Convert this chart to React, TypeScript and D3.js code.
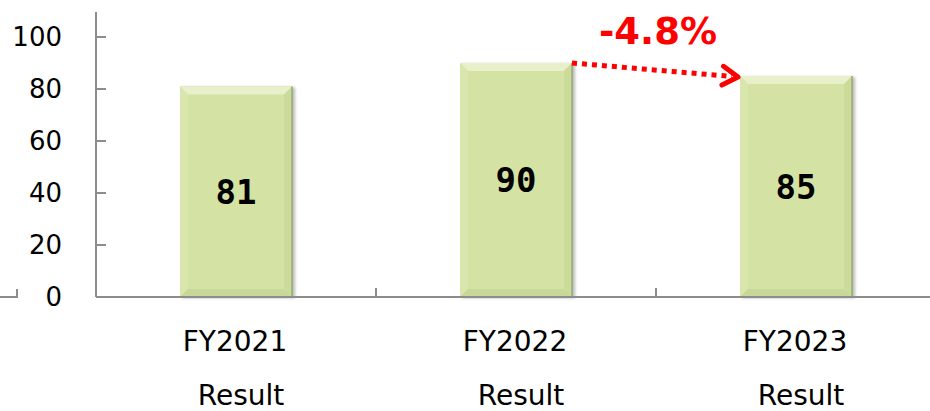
import React, { useEffect, useRef } from "react"
import * as d3 from "d3"

const categories = ["FY2021", "FY2022", "FY2023"]
const subLabels = ["Result", "Result", "Result"]
const values = [81, 90, 85]
const yTicks = [0, 20, 40, 60, 80, 100]
const changeLabel = "-4.8%"

const W = 930
const H = 411

const App = () => {
	const ref = useRef(null)

	useEffect(() => {
		const svg = d3.select(ref.current)
		svg.selectAll("*").remove()

		const x0 = 96
		const x1 = 936
		const yZero = 297

		const x = d3.scaleBand().domain(categories).range([x0, x1]).paddingInner(0.6).paddingOuter(0.3)
		const y = d3.scaleLinear().domain([0, 110]).range([yZero, yZero - 110 * 2.6])

		const defs = svg.append("defs")
		const blur = defs.append("filter").attr("id", "sh").attr("x", "-20%").attr("y", "-20%").attr("width", "140%").attr("height", "140%")
		blur.append("feGaussianBlur").attr("stdDeviation", 1.5)

		const axisColor = "#8c8c8c"

		// left-side stray axis fragment
		svg.append("path")
			.attr("d", `M0,${yZero}H17V${yZero - 8}`)
			.attr("fill", "none")
			.attr("stroke", axisColor)
			.attr("stroke-width", 2)

		// bars
		const bev = 8
		categories.forEach((c, i) => {
			const bx = x(c)
			const bw = x.bandwidth()
			const by = y(values[i])
			const bh = yZero - by
			const g = svg.append("g")
			g.append("rect")
				.attr("x", bx + 2)
				.attr("y", by + 1)
				.attr("width", bw + 1)
				.attr("height", bh)
				.attr("fill", "#777")
				.attr("opacity", 0.5)
				.attr("filter", "url(#sh)")
			g.append("rect")
				.attr("x", bx)
				.attr("y", by)
				.attr("width", bw)
				.attr("height", bh)
				.attr("fill", "#d4e3a4")
			const r = bx + bw
			const b = yZero
			// top bevel
			g.append("polygon")
				.attr("points", `${bx},${by} ${r},${by} ${r - bev},${by + bev} ${bx + bev},${by + bev}`)
				.attr("fill", "#e8f0cb")
			// left bevel
			g.append("polygon")
				.attr("points", `${bx},${by} ${bx + bev},${by + bev} ${bx + bev},${b - bev} ${bx},${b}`)
				.attr("fill", "#d9e6ae")
			// right bevel
			g.append("polygon")
				.attr("points", `${r},${by} ${r},${b} ${r - bev},${b - bev} ${r - bev},${by + bev}`)
				.attr("fill", "#cbdb99")
			// bottom bevel
			g.append("polygon")
				.attr("points", `${bx},${b} ${r},${b} ${r - bev},${b - bev} ${bx + bev},${b - bev}`)
				.attr("fill", "#c8d898")
			g.append("line")
				.attr("x1", r).attr("x2", r)
				.attr("y1", by).attr("y2", b)
				.attr("stroke", "#9aab72")
				.attr("stroke-width", 1.5)

			g.append("text")
				.attr("x", bx + bw / 2)
				.attr("y", (by + b) / 2)
				.attr("dy", "0.36em")
				.attr("text-anchor", "middle")
				.style("font-family", "'DejaVu Sans Mono', monospace")
				.style("font-weight", "bold")
				.style("font-size", "34px")
				.style("fill", "#000")
				.text(values[i])
		})

		// y axis
		svg.append("line")
			.attr("x1", x0).attr("x2", x0)
			.attr("y1", 12).attr("y2", yZero)
			.attr("stroke", axisColor)
			.attr("stroke-width", 2)
		yTicks.forEach((t) => {
			if (t > 0) {
				svg.append("line")
					.attr("x1", x0).attr("x2", x0 + 10)
					.attr("y1", y(t)).attr("y2", y(t))
					.attr("stroke", axisColor)
					.attr("stroke-width", 2)
			}
			svg.append("text")
				.attr("x", 62)
				.attr("y", y(t))
				.attr("dy", "0.36em")
				.attr("text-anchor", "end")
				.style("font-family", "'DejaVu Sans', sans-serif")
				.style("font-size", "26px")
				.style("fill", "#000")
				.text(t)
		})

		// x axis
		svg.append("line")
			.attr("x1", x0).attr("x2", x1)
			.attr("y1", yZero).attr("y2", yZero)
			.attr("stroke", axisColor)
			.attr("stroke-width", 2)
		const step = x.step()
		d3.range(1, categories.length + 1).forEach((k) => {
			svg.append("line")
				.attr("x1", x0 + k * step).attr("x2", x0 + k * step)
				.attr("y1", yZero).attr("y2", yZero - 9)
				.attr("stroke", axisColor)
				.attr("stroke-width", 2)
		})

		categories.forEach((c, i) => {
			const cx = x(c) + x.bandwidth() / 2
			svg.append("text")
				.attr("x", cx - 1)
				.attr("y", 351)
				.attr("text-anchor", "middle")
				.style("font-family", "'DejaVu Sans', sans-serif")
				.style("font-size", "28px")
				.style("fill", "#000")
				.text(c)
			svg.append("text")
				.attr("x", cx + 5)
				.attr("y", 405)
				.attr("text-anchor", "middle")
				.style("font-family", "'DejaVu Sans', sans-serif")
				.style("font-size", "28px")
				.style("fill", "#000")
				.text(subLabels[i])
		})

		// change arrow FY2022 -> FY2023
		const ax1 = x(categories[1]) + x.bandwidth()
		const ay1 = y(values[1])
		const ax2 = x(categories[2]) - 2
		const ay2 = y(values[2]) + 1
		svg.append("line")
			.attr("x1", ax1).attr("y1", ay1)
			.attr("x2", ax2 - 6).attr("y2", ay2 - 0.5)
			.attr("stroke", "#ff0000")
			.attr("stroke-width", 5)
			.attr("stroke-dasharray", "5,5")
		const ang = Math.atan2(ay2 - ay1, ax2 - ax1)
		const hl = 18
		const spread = 0.55
		const p1 = [ax2 - hl * Math.cos(ang - spread), ay2 - hl * Math.sin(ang - spread)]
		const p2 = [ax2 - hl * Math.cos(ang + spread), ay2 - hl * Math.sin(ang + spread)]
		svg.append("path")
			.attr("d", `M${p1[0]},${p1[1]}L${ax2},${ay2}L${p2[0]},${p2[1]}`)
			.attr("fill", "none")
			.attr("stroke", "#ff0000")
			.attr("stroke-width", 5)
			.attr("stroke-linecap", "round")
			.attr("stroke-linejoin", "round")

		svg.append("text")
			.attr("x", (ax1 + ax2) / 2 + 3)
			.attr("y", 44)
			.attr("text-anchor", "middle")
			.style("font-family", "'DejaVu Sans', sans-serif")
			.style("font-weight", "bold")
			.style("font-size", "37px")
			.style("fill", "#ff0000")
			.text(changeLabel)
	}, [])

	return (
		<div style={{ position: "absolute", left: 0, top: 0, width: W, height: H, background: "#fff" }}>
			<svg ref={ref} width={W} height={H} style={{ display: "block" }}></svg>
		</div>
	)
}

export default App
